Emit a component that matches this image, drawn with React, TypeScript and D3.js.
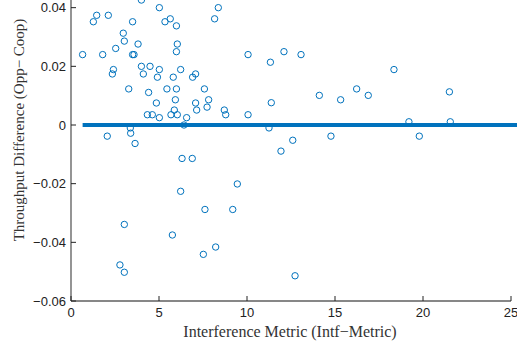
import React from "react";
import * as d3 from "d3";

const xValues: number[] = [
  0.66, 1.27, 1.46, 2.12, 1.8, 2.54, 2.41, 2.35, 2.97, 3.03, 3.28, 3.5, 3.5, 3.58, 3.81, 4.0, 4.0, 4.11,
  4.49, 4.41, 4.34, 4.62, 4.85, 5.02, 5.02, 5.02, 4.91, 5.34, 5.64, 5.99, 6.04, 5.99, 5.45, 5.99, 5.81,
  6.23, 5.93, 5.87, 5.68, 6.04, 6.57, 6.42, 3.37, 6.91, 7.08, 7.58, 7.82, 7.08, 7.14, 7.73, 8.16, 8.37,
  8.71, 8.79, 10.06, 10.06, 11.33, 12.1, 13.07, 11.38, 11.25, 14.11, 15.32, 16.23, 16.89, 18.35, 21.5,
  19.2, 21.55, 3.39, 2.06, 3.64, 6.31, 6.89, 9.45, 6.23, 7.61, 9.19, 3.03, 5.76, 8.22, 7.52, 2.78, 3.03,
  12.6, 11.93, 14.77, 19.79, 12.73,
];
const yValues: number[] = [
  0.024, 0.0352, 0.0374, 0.0374, 0.024, 0.0261, 0.0189, 0.0174, 0.0313, 0.0286, 0.0123, 0.0352, 0.024,
  0.024, 0.0276, 0.0426, 0.02, 0.0174, 0.02, 0.0111, 0.0035, 0.0035, 0.0075, 0.04, 0.0189, 0.0025, 0.0163,
  0.0352, 0.0362, 0.0338, 0.0276, 0.025, 0.0123, 0.0123, 0.0163, 0.0189, 0.0086, 0.0051, 0.0035, 0.0035,
  0.0025, 0.0, -0.001, 0.0163, 0.0174, 0.0123, 0.0086, 0.0075, 0.0051, 0.0061, 0.0362, 0.04, 0.0051,
  0.0035, 0.024, 0.0035, 0.0214, 0.025, 0.024, 0.0076, -0.001, 0.0101, 0.0086, 0.0123, 0.0101, 0.0189,
  0.0113, 0.0011, 0.0011, -0.0028, -0.0038, -0.0063, -0.0114, -0.0114, -0.0201, -0.0226, -0.0288, -0.0288,
  -0.0339, -0.0375, -0.0416, -0.0441, -0.0477, -0.0502, -0.0052, -0.0089, -0.0038, -0.0038, -0.0514,
];
const zeroLineX: number[] = [0.66, 26];
const xTicks: number[] = [0, 5, 10, 15, 20, 25];
const yTicks: number[] = [-0.06, -0.04, -0.02, 0, 0.02, 0.04];
const xLabel = "Interference Metric (Intf\u2212Metric)";
const yLabel = "Throughput Difference (Opp\u2212 Coop)";

export default function App() {
  const W = 517;
  const H = 349;
  const x = d3.scaleLinear().domain([0, 25]).range([71, 511]);
  const y = d3.scaleLinear().domain([-0.06, 0.04]).range([301, 7.67]);
  const blue = "#0072BD";
  const fmtY = (v: number) => (v === 0 ? "0" : (v < 0 ? "\u2212" : "") + Math.abs(v).toFixed(2));
  const line = d3.line<number>().x((d) => x(d)).y(() => y(0));
  const tickFont = "'Liberation Sans', Arial, sans-serif";
  const serif = "'Liberation Serif', 'Times New Roman', serif";
  return (
    <svg
      width={W}
      height={H}
      style={{ position: "absolute", left: 0, top: 0, background: "#fff" }}
    >
      {/* zero line */}
      <path d={line(zeroLineX) || ""} stroke={blue} strokeWidth={4} fill="none" />
      {/* points */}
      {xValues.map((xv, i) => (
        <circle
          key={i}
          cx={x(xv)}
          cy={y(yValues[i])}
          r={3.2}
          fill="none"
          stroke={blue}
          strokeWidth={1}
        />
      ))}
      {/* axes */}
      <line x1={x(0)} x2={x(0)} y1={0} y2={y(-0.06)} stroke="#7a7a7a" strokeWidth={1.6} />
      <line x1={x(0)} x2={x(25)} y1={y(-0.06)} y2={y(-0.06)} stroke="#111" strokeWidth={1.2} />
      {xTicks.map((t) => (
        <g key={"x" + t}>
          <line x1={x(t)} x2={x(t)} y1={y(-0.06)} y2={y(-0.06) - 5} stroke="#222" strokeWidth={1} />
          <text
            x={x(t)}
            y={316.5}
            textAnchor="middle"
            fontFamily={tickFont}
            fontSize={13}
            fill="#222"
          >
            {t}
          </text>
        </g>
      ))}
      {yTicks.map((t) => (
        <g key={"y" + t}>
          <line x1={x(0)} x2={x(0) + 5} y1={y(t)} y2={y(t)} stroke="#222" strokeWidth={1} />
          <text
            x={66}
            y={y(t)}
            dy="0.35em"
            textAnchor="end"
            fontFamily={tickFont}
            fontSize={13}
            fill="#222"
          >
            {fmtY(t)}
          </text>
        </g>
      ))}
      <text
        x={290}
        y={336.5}
        textAnchor="middle"
        fontFamily={serif}
        fontSize={16}
        fill="#333"
      >
        {xLabel}
      </text>
      <text
        transform={`translate(24,130) rotate(-90)`}
        textAnchor="middle"
        fontFamily={serif}
        fontSize={15}
        fill="#333"
      >
        {yLabel}
      </text>
    </svg>
  );
}
